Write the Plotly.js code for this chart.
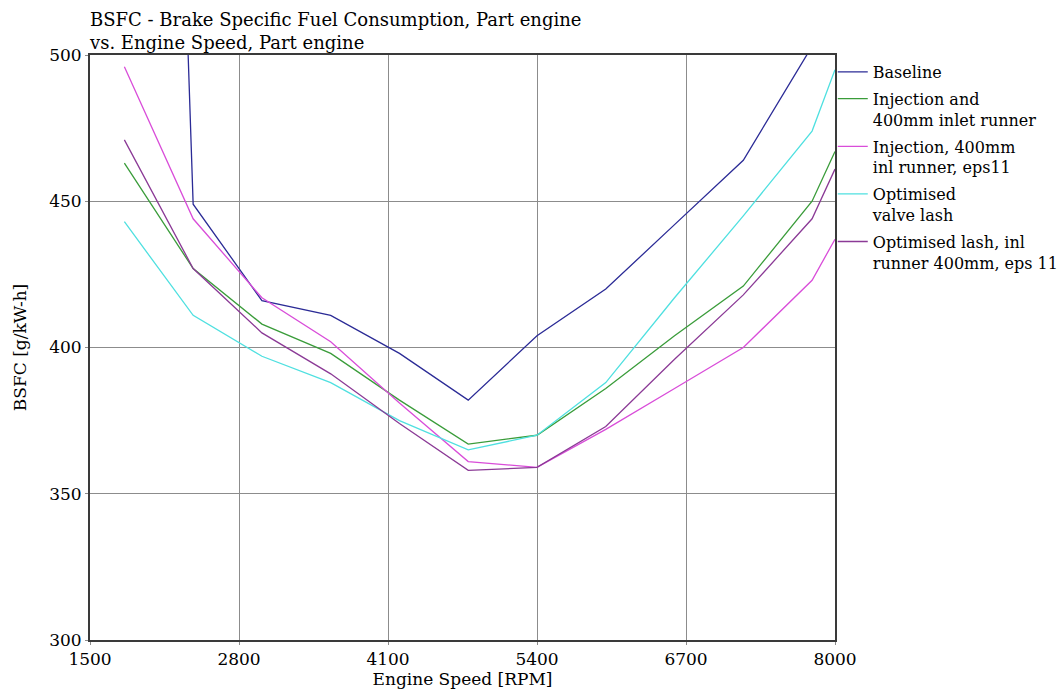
<!DOCTYPE html>
<html>
<head>
<meta charset="utf-8">
<script src="https://cdn.plot.ly/plotly-3.0.1.min.js"></script>
<style>html,body{margin:0;padding:0;background:#fff;}#chart{width:1061px;height:699px;}</style>
</head>
<body>
<div id="chart"></div>
<script>
const rpm = [1800, 2400, 3000, 3600, 4200, 4800, 5400, 6000, 6600, 7200, 7800, 8000];
const baseline = [1150, 449, 416, 411, 398, 382, 404, 420, 442, 464, 503, 517];
const injection400 = [463, 427, 408, 398, 382, 367, 370, 386, 404, 421, 450, 467];
const injectionEps11 = [496, 444, 417, 402, 381, 361, 359, 372, 386, 400, 423, 437];
const optimisedLash = [443, 411, 397, 388, 375, 365, 370, 388, 417, 445, 474, 495];
const optimisedLashEps11 = [471, 427, 405, 391, 374, 358, 359, 373, 396, 418, 444, 461];

const seriesNames = [
  "Baseline",
  "Injection and<br>400mm inlet runner",
  "Injection, 400mm<br>inl runner, eps11",
  "Optimised<br>valve lash",
  "Optimised lash, inl<br>runner 400mm, eps 11"
];
const seriesValues = [baseline, injection400, injectionEps11, optimisedLash, optimisedLashEps11];
const seriesColors = ["#2b2b96", "#3a9c3a", "#d94dd9", "#4fe0e0", "#8b3a96"];

const xTicks = [1500, 2800, 4100, 5400, 6700, 8000];
const yTicks = [300, 350, 400, 450, 500];

const FONT = "DejaVu Serif, Liberation Serif, serif";

const traces = seriesValues.map((vals, i) => ({
  type: "scatter",
  mode: "lines",
  x: rpm,
  y: vals,
  name: seriesNames[i],
  legendgroup: "g" + i,
  line: {color: seriesColors[i], width: 1.3},
  hoverinfo: "x+y+name"
}));

const layout = {
  width: 1061,
  height: 699,
  paper_bgcolor: "#ffffff",
  plot_bgcolor: "#ffffff",
  margin: {l: 90, r: 226, t: 55, b: 59, autoexpand: false},
  font: {family: FONT, color: "#000000", size: 16},
  title: {
    text: "BSFC - Brake Specific Fuel Consumption, Part engine<br>vs. Engine Speed, Part engine",
    font: {family: FONT, size: 18, color: "#000"},
    x: 90 / 1061,
    xref: "container",
    xanchor: "left",
    y: 1 - 26 / 699,
    yref: "container",
    yanchor: "top"
  },
  xaxis: {
    range: [1500, 8000],
    tickmode: "array",
    tickvals: xTicks,
    ticktext: xTicks.map(String),
    showgrid: true,
    gridcolor: "#8c8c8c",
    gridwidth: 1,
    zeroline: false,
    showline: true,
    linecolor: "#3a3a3a",
    linewidth: 2,
    mirror: true,
    ticks: "outside",
    ticklen: 3,
    tickcolor: "#8c8c8c",
    tickfont: {family: FONT, size: 17},
    title: {text: "Engine Speed [RPM]", font: {family: FONT, size: 17}, standoff: 2}
  },
  yaxis: {
    range: [300, 500],
    tickmode: "array",
    tickvals: yTicks,
    ticktext: yTicks.map(String),
    showgrid: true,
    gridcolor: "#8c8c8c",
    gridwidth: 1,
    zeroline: false,
    showline: true,
    linecolor: "#3a3a3a",
    linewidth: 2,
    mirror: true,
    ticks: "outside",
    ticklen: 3,
    tickcolor: "#8c8c8c",
    tickfont: {family: FONT, size: 17},
    title: {text: "BSFC [g/kW-h]", font: {family: FONT, size: 17}, standoff: 18}
  },
  showlegend: true,
  legend: {
    x: 0.997,
    xanchor: "left",
    y: 1.0,
    yanchor: "top",
    font: {family: FONT, size: 16, color: "#000"},
    valign: "top",
    tracegroupgap: 3,
    bgcolor: "rgba(0,0,0,0)",
    borderwidth: 0
  },
  hovermode: "closest"
};

Plotly.newPlot("chart", traces, layout, {displayModeBar: false, responsive: false});
</script>
</body>
</html>
